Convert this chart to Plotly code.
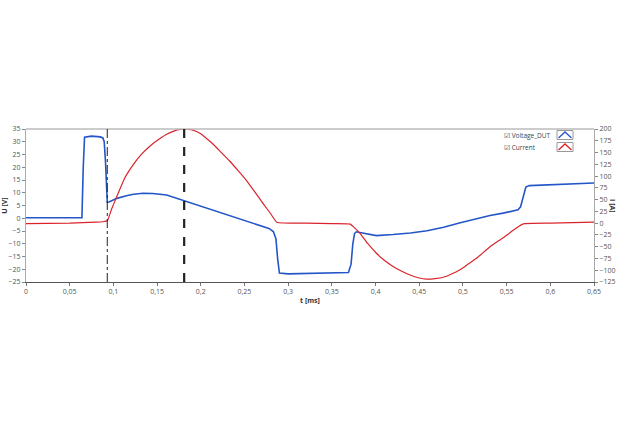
import plotly.graph_objects as go

# ---- data ----
t_volt = [0, 0.064, 0.0655, 0.067, 0.075, 0.085, 0.088, 0.0895, 0.091, 0.092, 0.093,
          0.095, 0.104, 0.115, 0.123, 0.134, 0.145, 0.161, 0.180, 0.199, 0.22, 0.24,
          0.255, 0.27, 0.278, 0.283, 0.286, 0.288, 0.29, 0.30, 0.33, 0.36, 0.369,
          0.372, 0.374, 0.376, 0.378, 0.382, 0.39, 0.401, 0.42, 0.44, 0.459, 0.478,
          0.497, 0.516, 0.531, 0.546, 0.558, 0.563, 0.566, 0.569, 0.572, 0.576,
          0.60, 0.625, 0.65]
voltage = [0.2, 0.2, 20, 31.8, 32.2, 31.9, 31.5, 30, 22, 12, 6.3,
           6.4, 7.8, 8.8, 9.4, 9.8, 9.7, 9.1, 7.0, 4.7, 2.5, 0.3,
           -1.5, -3.0, -4.0, -5.2, -8, -16, -21.5, -21.8, -21.7, -21.6, -21.3,
           -18, -10, -6, -5.3, -5.6, -6.2, -6.8, -6.4, -5.8, -4.9, -3.5,
           -1.8, -0.2, 1.1, 2.0, 2.8, 3.3, 4.5, 8, 12.2, 12.8,
           13.1, 13.5, 13.8]

t_curr = [0, 0.05, 0.08, 0.088, 0.093, 0.098, 0.104, 0.113, 0.123, 0.132, 0.142,
          0.152, 0.161, 0.170, 0.176, 0.181, 0.186, 0.190, 0.199, 0.206, 0.214,
          0.223, 0.233, 0.243, 0.253, 0.262, 0.272, 0.280, 0.287, 0.32, 0.35,
          0.371, 0.376, 0.382, 0.391, 0.401, 0.41, 0.42, 0.43, 0.4395, 0.449,
          0.4586, 0.468, 0.4777, 0.487, 0.4967, 0.506, 0.516, 0.531, 0.546,
          0.560, 0.569, 0.6, 0.65]
current = [-1, 0, 2, 3, 5, 30, 57, 96, 125, 146, 164,
           178, 189, 196, 199, 200, 199, 198, 191, 181, 168,
           151, 132, 111, 89, 66, 40, 20, 2, 0, -1,
           -2, -10, -21, -43, -64, -79, -92, -102, -110, -116,
           -119, -118, -115, -108, -99, -87, -74, -50, -31,
           -12, -1.5, 0, 2]

markers_t = [0.093, 0.181]

x_ticks = [0, 0.05, 0.1, 0.15, 0.2, 0.25, 0.3, 0.35, 0.4, 0.45, 0.5, 0.55, 0.6, 0.65]
x_labels = ["0", "0,05", "0,1", "0,15", "0,2", "0,25", "0,3", "0,35", "0,4",
            "0,45", "0,5", "0,55", "0,6", "0,65"]

BLUE = "#2456c8"
RED = "#d9242b"
FONT = "Open Sans"

fig = go.Figure()
fig.add_trace(go.Scatter(x=t_volt, y=voltage, mode="lines", name="Voltage_DUT",
                         line=dict(color=BLUE, width=1.6), yaxis="y"))
fig.add_trace(go.Scatter(x=t_curr, y=current, mode="lines", name="Current",
                         line=dict(color=RED, width=1.2, shape="spline", smoothing=0.4),
                         yaxis="y2"))

tickfont = dict(family=FONT, size=7, color="#555555")

fig.update_layout(
    width=630, height=440,
    margin=dict(l=26, r=36, t=129, b=158),
    paper_bgcolor="white", plot_bgcolor="white",
    showlegend=False,
    font=dict(family=FONT, size=7, color="#444444"),
    xaxis=dict(range=[0, 0.65], tickvals=x_ticks, ticktext=x_labels, automargin=False,
               showgrid=False, zeroline=False, showline=True, linecolor="#555555",
               linewidth=1, ticks="outside", ticklen=3, tickcolor="#777777",
               tickfont=tickfont,
               title=dict(text="<b>t [ms]</b>", font=dict(family=FONT, size=7, color="#333333"),
                          standoff=2)),
    yaxis=dict(range=[-25, 35], dtick=5, showgrid=False, zeroline=False, automargin=False,
               showline=True, linecolor="#aaaaaa", linewidth=1,
               ticks="outside", ticklen=3, tickcolor="#888888", tickfont=tickfont,
               title=dict(text="<b>U [V]</b>", font=dict(family=FONT, size=7, color="#333333"),
                          standoff=2)),
    yaxis2=dict(range=[-125, 200], dtick=25, overlaying="y", side="right", automargin=False,
                showgrid=False, zeroline=False, showline=True, linecolor="#aaaaaa",
                linewidth=1, ticks="outside", ticklen=3, tickcolor="#888888",
                tickfont=tickfont),
)

# top border
fig.add_shape(type="line", xref="paper", yref="paper", x0=0, x1=1, y0=1, y1=1,
              line=dict(color="#bbbbbb", width=1.5))

# cursor lines
fig.add_shape(type="line", xref="x", yref="paper", x0=markers_t[0], x1=markers_t[0],
              y0=0, y1=1, line=dict(color="#222222", width=1, dash="dashdot"))
fig.add_shape(type="line", xref="x", yref="paper", x0=markers_t[1], x1=markers_t[1],
              y0=0, y1=1, line=dict(color="#222222", width=2.2, dash="dash"))

# right axis title (rotated the other way)
fig.add_annotation(text="<b>I [A]</b>", xref="paper", yref="paper", x=1, y=0.5,
                   xshift=25, textangle=90, showarrow=False,
                   font=dict(family=FONT, size=7, color="#333333"))

# legend imitation: checkbox + name + icon box
PL, PR, PT, PB = 26, 594, 129, 282


def px(x):
    return (x - PL) / (PR - PL)


def py(y):
    return (PB - y) / (PB - PT)


legend_items = [("Voltage_DUT", BLUE, 135), ("Current", RED, 147)]
for name, col, yc in legend_items:
    fig.add_annotation(text="\u2611 " + name, xref="paper", yref="paper",
                       x=px(502), y=py(yc), xanchor="left", yanchor="middle",
                       showarrow=False, font=dict(family=FONT, size=6.5, color="#444444"))
    fig.add_shape(type="rect", xref="paper", yref="paper",
                  x0=px(557), x1=px(573), y0=py(yc + 4.5), y1=py(yc - 4.5),
                  line=dict(color="#999999", width=1), fillcolor="white")
    fig.add_shape(type="path", xref="paper", yref="paper",
                  path=f"M {px(558.5)} {py(yc + 3)} L {px(565)} {py(yc - 3)} L {px(571.5)} {py(yc + 3)}",
                  line=dict(color=col, width=1.3))

fig.write_html("out.html")
